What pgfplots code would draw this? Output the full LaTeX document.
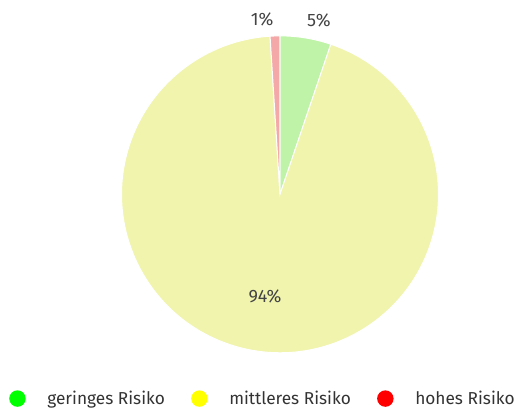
\documentclass[border=0pt]{standalone}
\usepackage{pgfplots}
\usepackage{pgfplotstable}
\pgfplotsset{compat=1.18}
\usepackage{fontspec}
\setmainfont{Fira Sans}
\definecolor{pgreen}{HTML}{BEF3A8}
\definecolor{pyellow}{HTML}{F0F4AD}
\definecolor{pred}{HTML}{F4A8A8}
\definecolor{lgreen}{HTML}{00FF00}
\definecolor{lyellow}{HTML}{FFFF00}
\definecolor{lred}{HTML}{FF0000}
\definecolor{labcol}{HTML}{444444}
\definecolor{txtcol}{HTML}{333333}
\pgfplotstableread{
label value
geringes 5.2
mittleres 93.8
hohes 1.0
}\piedata
\begin{document}
\begin{tikzpicture}
\pgfplotstablegetelem{0}{value}\of\piedata \let\vA\pgfplotsretval
\pgfplotstablegetelem{1}{value}\of\piedata \let\vB\pgfplotsretval
\pgfplotstablegetelem{2}{value}\of\piedata \let\vC\pgfplotsretval
\pgfmathsetmacro\aA{90-3.6*\vA}
\pgfmathsetmacro\aB{\aA-3.6*\vB}
\pgfmathsetmacro\aC{\aB-3.6*\vC}
\def\R{119.25pt}
\begin{axis}[
  x=0.75pt, y=0.75pt,
  xmin=0, xmax=516, ymin=0, ymax=414,
  hide axis, clip=false,
  axis line style={draw=none},
  legend columns=3,
  legend style={at={(axis cs:9,14)}, anchor=west, draw=none, fill=none,
    font=\fontsize{13}{15}\selectfont\color{txtcol},
    inner sep=0pt,
    /tikz/every even column/.append style={column sep=18.75pt},
    nodes={inner sep=1pt}},
  legend image code/.code={\path[#1, draw=none] (0pt,0pt) circle (6.2pt); \path[draw=none, fill=none] (-6.2pt,0pt) -- (21.5pt,0pt);},
]
\path (axis cs:0,0) rectangle (axis cs:516,414);
\addlegendimage{draw=none, fill=lgreen}
\addlegendentry{geringes Risiko}
\addlegendimage{draw=none, fill=lyellow}
\addlegendentry{mittleres Risiko}
\addlegendimage{draw=none, fill=lred}
\addlegendentry{hohes Risiko}
\fill[pgreen, draw=white, line width=0.75pt] (axis cs:281,219) -- ++(90:\R) arc[start angle=90, end angle=\aA, radius=\R] -- cycle;
\fill[pyellow, draw=white, line width=0.75pt] (axis cs:281,219) -- ++(\aA:\R) arc[start angle=\aA, end angle=\aB, radius=\R] -- cycle;
\fill[pred, draw=white, line width=0.75pt] (axis cs:281,219) -- ++(\aB:\R) arc[start angle=\aB, end angle=\aC, radius=\R] -- cycle;
\node[font=\fontsize{13.5}{15}\selectfont, text=labcol] at (axis cs:263,395) {1\%};
\node[font=\fontsize{13.5}{15}\selectfont, text=labcol] at (axis cs:320,394) {5\%};
\node[font=\fontsize{13.5}{15}\selectfont, text=labcol] at (axis cs:266,117) {94\%};
\end{axis}
\end{tikzpicture}
\end{document}
